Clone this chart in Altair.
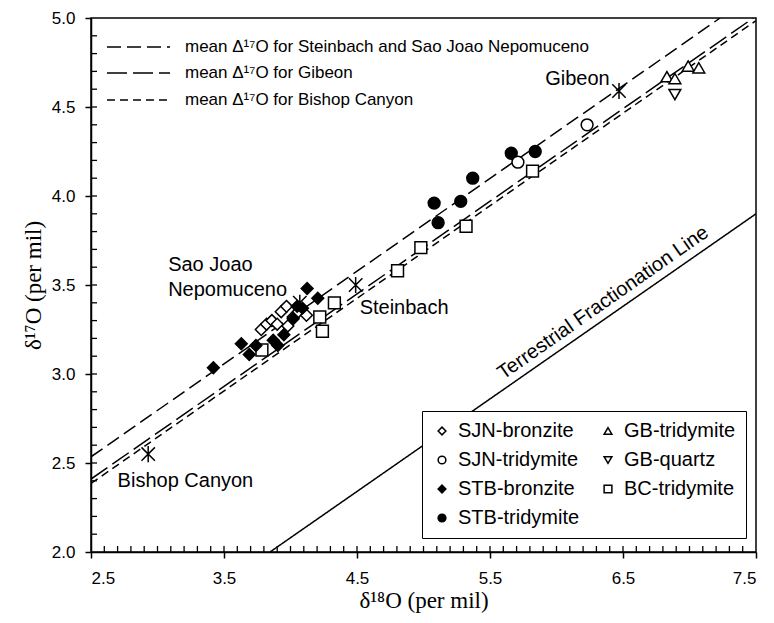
import altair as alt
import pandas as pd

# ---------------- data ----------------
sjn_bronzite_x = [3.78, 3.82, 3.86, 3.90, 3.93, 3.97, 3.98, 4.02, 4.06, 4.12]
sjn_bronzite_y = [3.25, 3.28, 3.30, 3.28, 3.35, 3.38, 3.27, 3.32, 3.35, 3.33]

stb_bronzite_x = [3.42, 3.63, 3.69, 3.74, 3.87, 3.905, 3.95, 4.02, 4.05, 4.09, 4.125, 4.205]
stb_bronzite_y = [3.035, 3.17, 3.11, 3.16, 3.19, 3.16, 3.22, 3.31, 3.38, 3.37, 3.48, 3.425]

stb_tridymite_x = [5.08, 5.11, 5.28, 5.37, 5.66, 5.84]
stb_tridymite_y = [3.96, 3.85, 3.97, 4.10, 4.24, 4.25]

sjn_tridymite_x = [5.71, 6.23]
sjn_tridymite_y = [4.19, 4.40]

gb_tridymite_x = [6.83, 6.89, 6.99, 7.07]
gb_tridymite_y = [4.67, 4.66, 4.73, 4.72]

gb_quartz_x = [6.89]
gb_quartz_y = [4.57]

bc_tridymite_x = [3.785, 4.22, 4.24, 4.33, 4.805, 4.98, 5.32, 5.82]
bc_tridymite_y = [3.135, 3.32, 3.24, 3.40, 3.58, 3.71, 3.83, 4.14]

meteorite_names = ["Bishop Canyon", "Sao Joao Nepomuceno", "Steinbach", "Gibeon"]
meteorite_x = [2.93, 4.07, 4.49, 6.47]
meteorite_y = [2.55, 3.40, 3.50, 4.59]

# reference lines (endpoints)
line_names = ["SJN-STB", "Gibeon", "Bishop Canyon", "TFL"]
line_x0 = [2.5, 2.5, 2.5, 3.846]
line_y0 = [2.535, 2.41, 2.385, 2.0]
line_x1 = [7.23, 7.48, 7.5, 7.5]
line_y1 = [5.0, 5.0, 4.985, 3.90]

legend_line_labels = [
    "mean \u0394\u00b9\u2077O for Steinbach and Sao Joao Nepomuceno",
    "mean \u0394\u00b9\u2077O for Gibeon",
    "mean \u0394\u00b9\u2077O for Bishop Canyon",
]

x_major = [2.5, 3.5, 4.5, 5.5, 6.5, 7.5]
y_major = [2.0, 2.5, 3.0, 3.5, 4.0, 4.5, 5.0]

# ---------------- tables ----------------
groups = [
    ("SJN-bronzite", sjn_bronzite_x, sjn_bronzite_y),
    ("BC-tridymite", bc_tridymite_x, bc_tridymite_y),
    ("STB-bronzite", stb_bronzite_x, stb_bronzite_y),
    ("STB-tridymite", stb_tridymite_x, stb_tridymite_y),
    ("SJN-tridymite", sjn_tridymite_x, sjn_tridymite_y),
    ("GB-tridymite", gb_tridymite_x, gb_tridymite_y),
    ("GB-quartz", gb_quartz_x, gb_quartz_y),
]
rows = []
for order, (name, xs_, ys_) in enumerate(groups):
    for xv, yv in zip(xs_, ys_):
        rows.append({"x": xv, "y": yv, "type": name, "o": order})
pts = pd.DataFrame(rows)

stars = pd.DataFrame({"x": meteorite_x, "y": meteorite_y, "name": meteorite_names})

lrows = []
for n, a, b, c, d in zip(line_names, line_x0, line_y0, line_x1, line_y1):
    lrows.append({"line": n, "x": a, "y": b})
    lrows.append({"line": n, "x": c, "y": d})
lines = pd.DataFrame(lrows)

legend_order = ["SJN-bronzite", "SJN-tridymite", "STB-bronzite", "STB-tridymite",
                "GB-tridymite", "GB-quartz", "BC-tridymite"]
shape_range = ["diamond", "circle", "diamond", "circle",
               "triangle-up", "triangle-down", "square"]
fill_range = ["white", "white", "black", "black", "white", "white", "white"]

x_minor = [round(2.5 + 0.1 * i, 1) for i in range(1, 50)]
y_minor = [round(2.0 + 0.1 * i, 1) for i in range(1, 30)]

W, H = 665, 534
SANS = "Liberation Sans"
SERIF = "Liberation Serif"

xs = alt.Scale(domain=[2.5, 7.5], nice=False, zero=False)
ys = alt.Scale(domain=[2.0, 5.0], nice=False, zero=False)

x_axis = alt.Axis(values=x_major, format=".1f", tickSize=6, tickWidth=1.5,
                  tickColor="black", domainColor="black", domainWidth=1.5,
                  labelFont=SANS, labelFontSize=17, labelColor="black",
                  labelPadding=12, grid=False,
                  title="\u03b4\u00b9\u2078O (per mil)", titleFont=SERIF,
                  titleFontSize=23, titleFontWeight="normal", titleColor="black",
                  titlePadding=3)
y_axis = alt.Axis(values=y_major, format=".1f", tickSize=6, tickWidth=1.5,
                  tickColor="black", domainColor="black", domainWidth=1.5,
                  labelFont=SANS, labelFontSize=17, labelColor="black",
                  labelPadding=10, grid=False,
                  title="\u03b4\u00b9\u2077O (per mil)", titleFont=SERIF,
                  titleFontSize=23, titleFontWeight="normal", titleColor="black",
                  titlePadding=6)


def X(field):
    return alt.X(field, scale=xs, axis=x_axis)


def Y(field):
    return alt.Y(field, scale=ys, axis=y_axis)


line_layer = alt.Chart(lines).mark_line(color="black", strokeWidth=1.5, clip=True).encode(
    x=X("x:Q"), y=Y("y:Q"),
    detail="line:N",
    strokeDash=alt.StrokeDash("line:N", legend=None, scale=alt.Scale(
        domain=line_names, range=[[14, 6], [20, 6], [8, 5], [1, 0]])),
)

# inward ticks
xt = alt.Chart(pd.DataFrame({"x": x_minor})).mark_rule(color="black", strokeWidth=1.3).encode(
    x=X("x:Q"), y=alt.value(H), y2=alt.value(H - 6))
yt = alt.Chart(pd.DataFrame({"y": y_minor})).mark_rule(color="black", strokeWidth=1.3).encode(
    y=Y("y:Q"), x=alt.value(0), x2=alt.value(6))

sym_legend = alt.Legend(title=None, orient="none", legendX=331, legendY=393,
                        columns=2, columnPadding=18, rowPadding=9, padding=10,
                        strokeColor="black", fillColor="white",
                        labelFont=SANS, labelFontSize=20, labelColor="black",
                        symbolSize=60, symbolStrokeWidth=1.5,
                        labelOffset=6)

pt_layer = alt.Chart(pts).mark_point(filled=True, strokeWidth=1.5, size=140,
                                     opacity=1).encode(
    x=X("x:Q"), y=Y("y:Q"),
    shape=alt.Shape("type:N", scale=alt.Scale(domain=legend_order, range=shape_range),
                    legend=sym_legend),
    fill=alt.Fill("type:N", scale=alt.Scale(domain=legend_order, range=fill_range),
                  legend=sym_legend),
    stroke=alt.Stroke("type:N", scale=alt.Scale(domain=legend_order, range=["black"] * 7),
                      legend=sym_legend),
    order=alt.Order("o:Q"),
)

star_layer = alt.Chart(stars).mark_point(
    shape="M-1,-1L1,1M-1,1L1,-1M0,-1.2L0,1.2", size=180, stroke="black",
    strokeWidth=1.5, filled=False, opacity=1).encode(x=X("x:Q"), y=Y("y:Q"))

# annotations
ann_left = pd.DataFrame({
    "x": [3.08, 3.08, 4.52, 2.70],
    "y": [3.612, 3.472, 3.371, 2.40],
    "t": ["Sao Joao", "Nepomuceno", "Steinbach", "Bishop Canyon"],
})
ann_right = pd.DataFrame({"x": [6.40], "y": [4.655], "t": ["Gibeon"]})
ann_tfl = pd.DataFrame({"x": [6.35], "y": [3.40], "t": ["Terrestrial Fractionation Line"]})

txt_left = alt.Chart(ann_left).mark_text(align="left", baseline="middle", font=SANS,
                                         fontSize=20, color="black").encode(
    x=X("x:Q"), y=Y("y:Q"), text="t:N")
txt_right = alt.Chart(ann_right).mark_text(align="right", baseline="middle", font=SANS,
                                           fontSize=20, color="black").encode(
    x=X("x:Q"), y=Y("y:Q"), text="t:N")
txt_tfl = alt.Chart(ann_tfl).mark_text(align="center", baseline="middle", font=SANS,
                                       fontSize=20, color="black", angle=325).encode(
    x=X("x:Q"), y=Y("y:Q"), text="t:N")

# top-left line-style legend
leg_df = pd.DataFrame({"label": legend_line_labels, "row": [0, 1, 2]})
row_y = [29, 55, 82]
dashes = [[14, 6], [20, 6], [8, 5]]
leg_rules = []
leg_texts = []
for i in range(3):
    d = leg_df[leg_df.row == i]
    leg_rules.append(alt.Chart(d).mark_rule(color="black", strokeWidth=1.5,
                                            strokeDash=dashes[i]).encode(
        x=alt.value(16), x2=alt.value(79), y=alt.value(row_y[i])))
    leg_texts.append(alt.Chart(d).mark_text(align="left", baseline="middle", font=SANS,
                                            fontSize=17, color="black").encode(
        x=alt.value(94), y=alt.value(row_y[i]), text="label:N"))

chart = alt.layer(
    line_layer, xt, yt, pt_layer, star_layer, txt_left, txt_right, txt_tfl,
    *leg_rules, *leg_texts,
).properties(
    width=W, height=H,
    autosize=alt.AutoSizeParams(type="none"),
    padding={"left": 83, "top": 10, "right": 8, "bottom": 63},
    background="white",
).configure_view(stroke="black", strokeWidth=1.5)

chart.save("out.html", embed_options={"renderer": "svg", "actions": False})
